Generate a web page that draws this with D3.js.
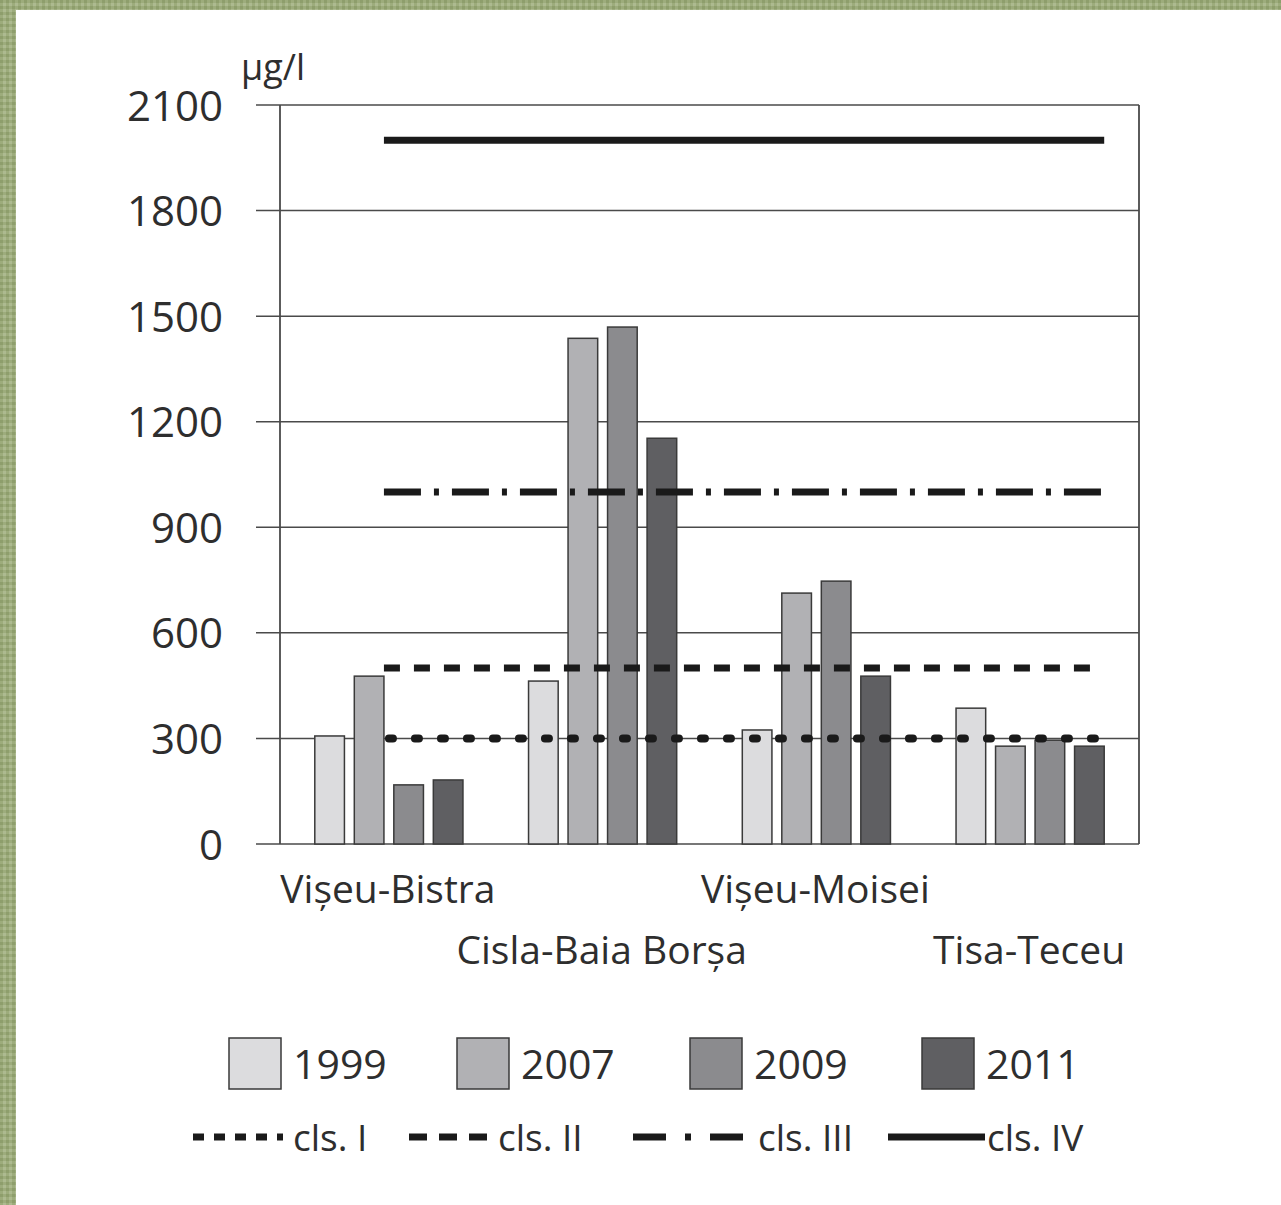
<!DOCTYPE html>
<html><head><meta charset="utf-8">
<script src="https://cdn.jsdelivr.net/npm/d3@7"></script>
<style>
html,body{margin:0;padding:0;background:#9fae80;}
svg{display:block;}
text{font-family:"Open Sans",sans-serif;fill:#2e2e2e;}
</style></head>
<body>
<svg id="c" width="1281" height="1205"></svg>
<script>
const categories = ["Vișeu-Bistra", "Cisla-Baia Borșa", "Vișeu-Moisei", "Tisa-Teceu"];
const years = ["1999", "2007", "2009", "2011"];
const values1999 = [307, 463, 324, 386];
const values2007 = [477, 1437, 713, 278];
const values2009 = [168, 1469, 747, 295];
const values2011 = [182, 1153, 477, 278];
const yTicks = [0, 300, 600, 900, 1200, 1500, 1800, 2100];
const classNames = ["cls. I", "cls. II", "cls. III", "cls. IV"];
const classLimits = [300, 500, 1000, 2000];
const unitLabel = "µg/l";

const series = [values1999, values2007, values2009, values2011];
const colors = ["#dcdcde", "#b1b1b4", "#8b8b8e", "#5f5f62"];
const dashes = ["4 22", "16 14", "37 13 5 13", null];
const caps = ["round", "butt", "butt", "butt"];

const svg = d3.select("#c");
const defs = svg.append("defs");
const pat = defs.append("pattern").attr("id","tex").attr("width",6).attr("height",6).attr("patternUnits","userSpaceOnUse");
pat.append("rect").attr("width",6).attr("height",6).attr("fill","#9dac7c");
pat.append("rect").attr("x",0).attr("y",0).attr("width",3).attr("height",3).attr("fill","#8e9e6c");
pat.append("rect").attr("x",3).attr("y",3).attr("width",3).attr("height",3).attr("fill","#adba90");
svg.append("rect").attr("width",1281).attr("height",1205).attr("fill","url(#tex)");
svg.append("rect").attr("x",16).attr("y",10).attr("width",1265).attr("height",1195).attr("fill","#fff");

const L = 280, R = 1139, T = 105, B = 844;
const y = d3.scaleLinear().domain([0, 2100]).range([B, T]);
const x = d3.scaleBand().domain(categories).range([L + 2, R - 2]).paddingInner(0).paddingOuter(0);
const xs = d3.scaleBand().domain(years).range([0, x.bandwidth()]).paddingInner(0.25).paddingOuter(0.83);

const g = svg.append("g");
g.selectAll("line.grid").data(yTicks).join("line")
  .attr("x1", L - 24).attr("x2", R)
  .attr("y1", d => y(d)).attr("y2", d => y(d))
  .attr("stroke", "#4a4a4a").attr("stroke-width", 1.5);
g.append("line").attr("x1", L).attr("x2", L).attr("y1", T).attr("y2", B).attr("stroke", "#4a4a4a").attr("stroke-width", 1.8);
g.append("line").attr("x1", R).attr("x2", R).attr("y1", T).attr("y2", B).attr("stroke", "#4a4a4a").attr("stroke-width", 1.8);

const yAxis = d3.axisLeft(y).tickValues(yTicks).tickSize(0).tickPadding(0).tickFormat(d3.format("d"));
const ya = svg.append("g").attr("transform", `translate(${L - 57},0)`).call(yAxis);
ya.select(".domain").remove();
ya.selectAll("text").attr("font-family", "Open Sans").attr("font-size", 42).attr("fill", "#2e2e2e").attr("dy", "0.36em");

svg.append("text").attr("x", 241).attr("y", 80).attr("font-size", 36).text(unitLabel);

const groups = svg.append("g").selectAll("g").data(categories).join("g")
  .attr("transform", d => `translate(${x(d)},0)`);
groups.selectAll("rect").data((c, i) => years.map((yr, j) => ({yr, v: series[j][i], j})))
  .join("rect")
  .attr("x", d => xs(d.yr)).attr("width", xs.bandwidth())
  .attr("y", d => y(d.v)).attr("height", d => B - y(d.v))
  .attr("fill", d => colors[d.j]).attr("stroke", "#3a3a3a").attr("stroke-width", 1.5);

const lx1 = x(categories[0]) + xs(years[1]) + xs.bandwidth();
const lx2 = x(categories[3]) + xs(years[3]) + xs.bandwidth();
classLimits.forEach((v, i) => {
  const ln = svg.append("line").attr("x1", i === 0 ? lx1 + 5 : lx1).attr("x2", i === 1 ? lx2 - 8 : lx2)
    .attr("y1", y(v)).attr("y2", y(v))
    .attr("stroke", "#1a1a1a").attr("stroke-width", i === 0 ? 8 : 7)
    .attr("stroke-linecap", caps[i]);
  if (dashes[i]) ln.attr("stroke-dasharray", dashes[i]);
});

svg.append("g").selectAll("text").data(categories).join("text")
  .attr("x", d => x(d) + x.bandwidth() / 2 - 1)
  .attr("y", (d, i) => i % 2 === 0 ? 903 : 964)
  .attr("text-anchor", "middle").attr("font-size", 39)
  .text(d => d);

const legX = [229, 457, 690, 922];
const lg = svg.append("g").selectAll("g").data(years).join("g")
  .attr("transform", (d, i) => `translate(${legX[i]},1038)`);
lg.append("rect").attr("width", 52).attr("height", 51)
  .attr("fill", (d, i) => colors[i]).attr("stroke", "#3a3a3a").attr("stroke-width", 1.5);
lg.append("text").attr("x", 64).attr("y", 41).attr("font-size", 41).text(d => d);

const clsX = [[193, 283], [409, 487], [633, 743], [888, 985]];
const clsDash = ["11 10", "18 12", "33 19 6 19", null];
const clsTextX = [293, 498, 758, 987];
const cg = svg.append("g").selectAll("g").data(classNames).join("g");
cg.append("line")
  .attr("x1", (d, i) => clsX[i][0]).attr("x2", (d, i) => clsX[i][1])
  .attr("y1", 1137).attr("y2", 1137)
  .attr("stroke", "#1a1a1a").attr("stroke-width", 7)
  .attr("stroke-dasharray", (d, i) => clsDash[i]);
cg.append("text")
  .attr("x", (d, i) => clsTextX[i])
  .attr("y", 1151).attr("font-size", 37).text(d => d);
</script>
</body></html>
